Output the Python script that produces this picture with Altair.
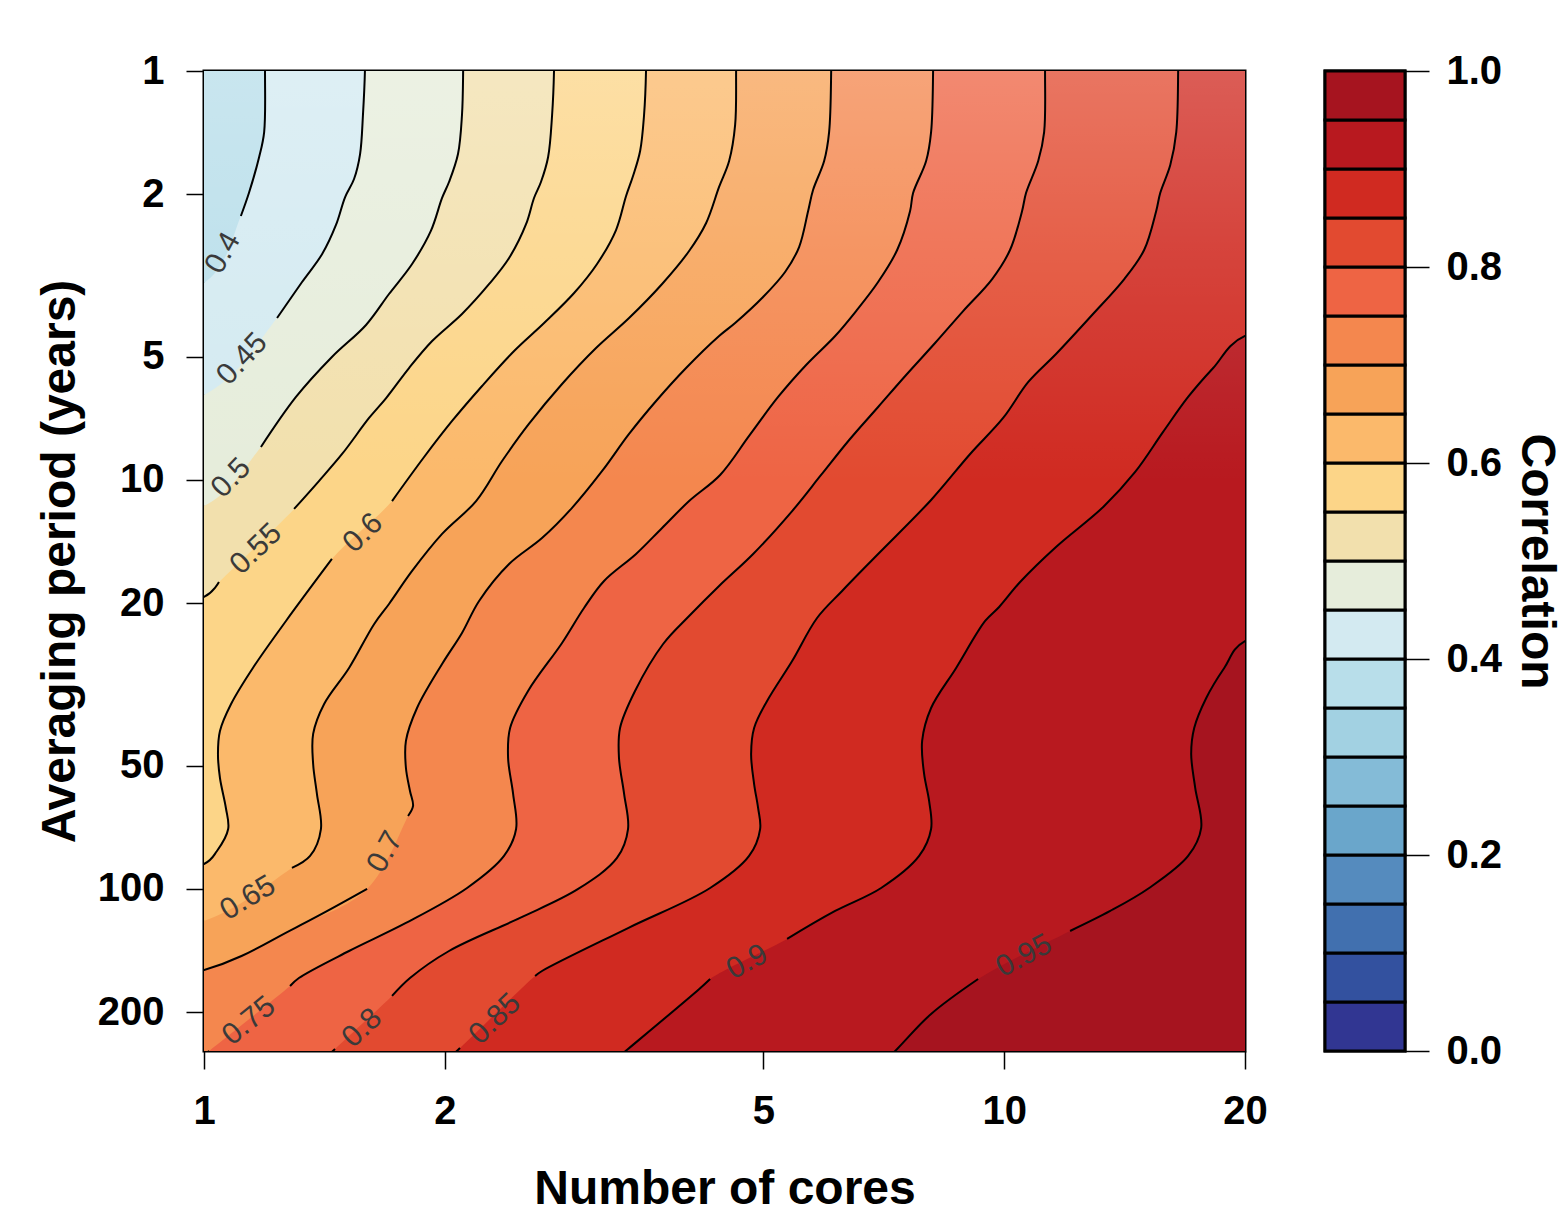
import altair as alt
import pandas as pd

# ---------------- data ----------------
# colour of each 0.05-wide correlation band, from 0.00-0.05 up to 0.95-1.00
BAND_LO = [0.00, 0.05, 0.10, 0.15, 0.20, 0.25, 0.30, 0.35, 0.40, 0.45,
           0.50, 0.55, 0.60, 0.65, 0.70, 0.75, 0.80, 0.85, 0.90, 0.95]
BAND_HI = [0.05, 0.10, 0.15, 0.20, 0.25, 0.30, 0.35, 0.40, 0.45, 0.50,
           0.55, 0.60, 0.65, 0.70, 0.75, 0.80, 0.85, 0.90, 0.95, 1.00]
BAND_COLORS = ["#313692", "#33519F", "#4170AF", "#558BBE", "#6AA6CB",
               "#84BBD7", "#A2D1E2", "#B8DEEA", "#D3EAF1", "#E6EDDB",
               "#F2E0AD", "#FCD588", "#FBB96B", "#F7A358", "#F4874E",
               "#EE6444", "#E24A30", "#D02A21", "#B8191F", "#A6141F"]

LEVELS = [0.40, 0.45, 0.50, 0.55, 0.60, 0.65, 0.70, 0.75, 0.80, 0.85, 0.90, 0.95]

# contour lines: number of cores (x) and averaging period (y); the gap index
# marks where the line is broken for its label; points beyond the frame are clipped
c40_x = [1.192, 1.192, 1.189, 1.172, 1.138, 1.112, 1.0, 0.5, 0.5]
c40_y = [0.8, 1.0, 1.410, 1.623, 1.988, 2.262, 3.298, 4.0, 400]
c40_gap = 6

c45_x = [1.589, 1.589, 1.580, 1.567, 1.540, 1.501, 1.462, 1.405, 1.326, 1.234, 1.0, 0.5, 0.5]
c45_y = [0.8, 1.0, 1.281, 1.596, 1.837, 2.033, 2.379, 2.802, 3.281, 4.018, 6.197, 7.5, 400]
c45_gap = 10

c50_x = [2.108, 2.108, 2.101, 2.077, 2.024, 1.984, 1.921, 1.820, 1.703, 1.594, 1.445, 1.303, 1.178,
         1.0, 0.5, 0.5]
c50_y = [0.8, 1.0, 1.281, 1.596, 1.868, 2.044, 2.461, 2.964, 3.510, 4.178, 5.004, 6.267, 8.307,
         11.58, 14, 400]
c50_gap = 13

c55_x = [2.738, 2.738, 2.723, 2.692, 2.637, 2.585, 2.527, 2.406, 2.272, 2.101, 1.928, 1.804, 1.689,
         1.608, 1.488, 1.392, 1.296, 1.044, 1.0, 0.5, 0.5]
c55_y = [0.8, 1.0, 1.281, 1.623, 1.868, 2.044, 2.366, 2.866, 3.317, 3.928, 4.573, 5.324, 6.304,
         7.054, 8.639, 10.06, 11.77, 17.76, 19.32, 23, 400]
c55_gap = 17

c60_x = [3.568, 3.568, 3.548, 3.508, 3.437, 3.369, 3.273, 3.099, 2.901, 2.661, 2.441, 2.226, 2.042,
         1.884, 1.718, 1.445, 1.266, 1.151, 1.081, 1.047, 1.041, 1.047, 1.065, 1.072, 1.038, 1.0,
         0.5, 0.5]
c60_y = [0.8, 1.0, 1.281, 1.569, 1.806, 2.021, 2.448, 2.964, 3.490, 4.132, 4.838, 5.890, 7.173,
         8.786, 11.26, 15.60, 22.12, 28.82, 35.30, 41.08, 46.77, 53.54, 63.39, 71.36, 80.74, 86.88,
         100, 400]
c60_gap = 15

c65_x = [4.624, 4.624, 4.611, 4.532, 4.403, 4.242, 4.039, 3.737, 3.398, 3.090, 2.802, 2.547, 2.358,
         2.188, 1.984, 1.820, 1.703, 1.632, 1.518, 1.413, 1.369, 1.369, 1.384, 1.400, 1.357, 1.288,
         1.0, 0.5, 0.5]
c65_y = [0.8, 1.0, 1.355, 1.660, 1.921, 2.353, 2.755, 3.317, 4.018, 4.757, 5.825, 7.296, 8.986,
         11.26, 13.55, 16.69, 20.10, 22.49, 28.82, 35.30, 41.78, 49.47, 58.58, 71.36, 83.04, 88.85,
         119.7, 140, 400]
c65_gap = 26

c70_x = [6.079, 6.079, 6.043, 5.957, 5.770, 5.689, 5.543, 5.324, 4.997, 4.611, 4.403, 4.004, 3.673,
         3.398, 3.145, 2.884, 2.645, 2.406, 2.207, 2.101, 1.984, 1.846, 1.788, 1.788, 1.809, 1.825,
         1.799, 1.599, 1.299, 1.0, 0.5, 0.5]
c70_y = [0.8, 1.0, 1.410, 1.660, 1.954, 2.199, 2.694, 3.100, 3.569, 4.132, 4.446, 5.324, 6.411,
         7.717, 9.506, 11.70, 13.87, 16.05, 19.76, 23.66, 28.18, 36.10, 43.46, 50.61, 57.60, 62.68,
         66.31, 100.0, 124.6, 157.8, 185, 400]
c70_gap = 27

c75_x = [8.151, 8.151, 8.104, 7.989, 7.695, 7.629, 7.350, 6.958, 6.531, 6.149, 5.656, 5.218, 4.800,
         4.416, 4.039, 3.737, 3.467, 3.162, 2.985, 2.802, 2.541, 2.413, 2.399, 2.434, 2.455, 2.371,
         2.132, 1.788, 1.518, 1.314, 1.281, 1.015, 0.9]
c75_y = [0.8, 1.0, 1.410, 1.660, 1.988, 2.199, 2.740, 3.281, 3.863, 4.446, 5.235, 6.267, 7.803,
         9.723, 11.26, 13.10, 15.17, 17.66, 20.56, 25.03, 32.80, 40.40, 47.83, 58.58, 71.36, 83.04,
         99.45, 121.1, 141.8, 165.1, 172.7, 248.9, 300]
c75_gap = 31

c80_x = [11.25, 11.25, 11.22, 11.03, 10.65, 10.53, 10.17, 9.661, 8.887, 8.198, 7.542, 6.958, 6.402,
         5.905, 5.433, 4.856, 4.403, 4.039, 3.748, 3.457, 3.311, 3.301, 3.350, 3.388, 3.282, 2.935,
         2.483, 2.024, 1.809, 1.718, 1.458, 1.31]
c80_y = [0.8, 1.0, 1.410, 1.660, 1.988, 2.199, 2.740, 3.226, 3.863, 4.624, 5.537, 6.630, 7.985,
         9.723, 11.91, 15.17, 18.16, 21.51, 25.18, 32.80, 40.40, 47.83, 58.58, 71.36, 83.98, 100.0,
         117.7, 141.8, 165.1, 182.6, 246.2, 300]
c80_gap = 30

c85_x = [16.50, 16.50, 16.41, 16.13, 15.67, 15.49, 14.96, 14.13, 12.88, 11.61, 10.72, 9.971, 9.068,
         8.104, 6.958, 6.273, 5.837, 5.433, 5.055, 4.870, 4.828, 4.870, 4.926, 4.955, 4.800, 4.291,
         3.388, 2.645, 2.593, 2.089, 1.87]
c85_y = [0.8, 1.0, 1.410, 1.698, 1.988, 2.199, 2.740, 3.226, 3.950, 4.920, 5.758, 7.054, 8.639,
         11.19, 15.17, 18.68, 21.75, 27.71, 34.70, 40.40, 46.77, 55.39, 63.39, 71.36, 83.04, 99.45,
         124.6, 158.7, 163.2, 244.9, 300]
c85_gap = 29

c90_x = [40, 40, 20.0, 18.25, 16.98, 15.80, 14.58, 13.30, 11.61, 10.47, 9.857, 9.468, 8.710, 8.104,
         7.898, 7.943, 8.058, 8.104, 7.830, 7.019, 6.149, 5.355, 4.291, 4.159, 3.388, 3.0]
c90_y = [0.5, 4.2, 4.446, 5.324, 6.267, 7.630, 9.559, 11.64, 14.58, 17.76, 20.44, 22.12, 28.82,
         36.10, 43.46, 52.34, 60.93, 71.36, 83.04, 99.45, 113.2, 132.5, 166.0, 175.6, 246.2, 300]
c90_gap = 22

c95_x = [40, 40, 20.0, 18.84, 17.89, 17.28, 17.13, 17.33, 17.63, 16.98, 15.18, 13.57, 12.09,
         9.279, 8.104, 7.350, 6.66]
c95_y = [0.5, 22.0, 24.76, 28.82, 34.12, 40.40, 46.77, 56.63, 70.96, 83.04, 99.45, 113.2, 126.7,
         166.0, 202.1, 246.2, 300]
c95_gap = 13

# contour labels
LABEL_TEXT = ["0.4", "0.45", "0.5", "0.55", "0.6", "0.65", "0.7", "0.75", "0.8", "0.85", "0.9", "0.95"]
LABEL_X = [1.056, 1.116, 1.081, 1.161, 1.580, 1.135, 1.684, 1.138, 1.576, 2.311, 4.773, 10.59]
LABEL_Y = [2.786, 5.061, 9.888, 14.75, 13.48, 105.2, 81.2, 210.3, 218.8, 207.9, 150.8, 145.8]
LABEL_ANGLE = [299, 313, 314, 316, 316, 329, 299, 321, 317, 316, 332, 332]

X_TICKS = [1, 2, 5, 10, 20]
Y_TICKS = [1, 2, 5, 10, 20, 50, 100, 200]
CB_TICKS = [0.0, 0.2, 0.4, 0.6, 0.8, 1.0]
X_DOMAIN = [1, 20]
Y_DOMAIN = [1, 249]
X_RIGHT = 40  # right bound of filled regions (clipped)

CONTOURS = [
    (0.40, c40_x, c40_y, c40_gap), (0.45, c45_x, c45_y, c45_gap),
    (0.50, c50_x, c50_y, c50_gap), (0.55, c55_x, c55_y, c55_gap),
    (0.60, c60_x, c60_y, c60_gap), (0.65, c65_x, c65_y, c65_gap),
    (0.70, c70_x, c70_y, c70_gap), (0.75, c75_x, c75_y, c75_gap),
    (0.80, c80_x, c80_y, c80_gap), (0.85, c85_x, c85_y, c85_gap),
    (0.90, c90_x, c90_y, c90_gap), (0.95, c95_x, c95_y, c95_gap),
]

# ---------------- chart ----------------
FONT = "Liberation Sans"
W, H = 1041, 980
CURVE = "catmull-rom"

xscale = alt.Scale(type="log", domain=X_DOMAIN, nice=False)
yscale = alt.Scale(type="log", domain=Y_DOMAIN, nice=False, reverse=True)

X = alt.X("x:Q", scale=xscale,
          axis=alt.Axis(values=X_TICKS, format="d", title="Number of cores",
                        tickSize=18, tickWidth=1.5, labelPadding=22, titlePadding=34,
                        labelFlush=False, labelOverlap=False, grid=False, domain=False))
Y = alt.Y("y:Q", scale=yscale,
          axis=alt.Axis(values=Y_TICKS, format="d", title="Averaging period (years)",
                        tickSize=18, tickWidth=1.5, labelPadding=22, titlePadding=13,
                        labelOverlap=False, grid=False, domain=False))


def band_color(level):
    return BAND_COLORS[BAND_LO.index(level)]


layers = []

# lowest band (below 0.40) fills the whole frame first; each level then paints
# the region to the right of its contour (areas are sorted along y)
bg = pd.DataFrame({"x": [0.5, 0.5], "y": [0.5, 400], "xr": [X_RIGHT, X_RIGHT]})
layers.append(alt.Chart(bg).mark_area(orient="horizontal", clip=True, color=BAND_COLORS[7])
              .encode(x=X, x2="xr:Q", y=Y))

line_rows = []
for lvl, xs, ys, gap in CONTOURS:
    d = pd.DataFrame({"x": xs, "y": ys})
    d["xr"] = X_RIGHT
    layers.append(alt.Chart(d).mark_area(orient="horizontal", clip=True, color=band_color(lvl),
                                         interpolate=CURVE)
                  .encode(x=X, x2="xr:Q", y=Y))
    for i, (xv, yv) in enumerate(zip(xs, ys)):
        line_rows.append({"x": xv, "y": yv, "i": i,
                          "seg": f"{lvl:.2f}-{'a' if i < gap else 'b'}"})

# light haze towards the top of the panel, as in the reference image
haze = pd.DataFrame({"x": [X_DOMAIN[0]], "x2": [X_DOMAIN[1]], "y": [Y_DOMAIN[0]], "y2": [Y_DOMAIN[1]]})
layers.append(alt.Chart(haze).mark_rect(
    clip=True,
    color=alt.LinearGradient(gradient="linear", x1=0, x2=0, y1=0, y2=1,
                             stops=[alt.GradientStop(color="rgba(255,255,255,0.24)", offset=0),
                                    alt.GradientStop(color="rgba(255,255,255,0.12)", offset=0.18),
                                    alt.GradientStop(color="rgba(255,255,255,0)", offset=0.42),
                                    alt.GradientStop(color="rgba(255,255,255,0)", offset=1)]))
              .encode(x=X, x2="x2:Q", y=Y, y2="y2:Q"))

lines = pd.DataFrame(line_rows)
layers.append(alt.Chart(lines).mark_line(color="black", strokeWidth=2, clip=True, interpolate=CURVE)
              .encode(x=X, y=Y, detail="seg:N", order="i:Q"))

labels = pd.DataFrame({"x": LABEL_X, "y": LABEL_Y, "t": LABEL_TEXT, "a": LABEL_ANGLE})
layers.append(alt.Chart(labels).mark_text(font=FONT, fontSize=30, color="#3a3a3a",
                                          align="center", baseline="middle")
              .encode(x=X, y=Y, text="t:N", angle=alt.Angle("a:Q", scale=None)))

main = alt.layer(*layers).properties(width=W, height=H)

cb = pd.DataFrame({"lo": BAND_LO, "hi": BAND_HI, "c": BAND_COLORS})
colorbar = alt.Chart(cb).mark_rect(stroke="black", strokeWidth=3).encode(
    y=alt.Y("lo:Q", scale=alt.Scale(domain=[0, 1], nice=False, zero=False),
            axis=alt.Axis(orient="right", values=CB_TICKS, format=".1f", title="Correlation",
                          tickSize=24, tickWidth=1.5, labelPadding=17, titlePadding=10,
                          labelOverlap=False, grid=False, domain=False)),
    y2="hi:Q",
    color=alt.Color("c:N", scale=None),
).properties(width=80, height=H)

chart = (
    alt.hconcat(main, colorbar, spacing=80, bounds="flush")
    .properties(padding={"left": 34, "top": 49, "right": 2, "bottom": 5}, background="white")
    .configure_view(stroke="black", strokeWidth=3)
    .configure_axis(labelFont=FONT, titleFont=FONT, labelFontSize=40, titleFontSize=48,
                    labelFontWeight="bold", titleFontWeight="bold", labelColor="black",
                    titleColor="black", tickColor="black")
)

chart.save("out.html", embed_options={"renderer": "svg", "actions": False})
